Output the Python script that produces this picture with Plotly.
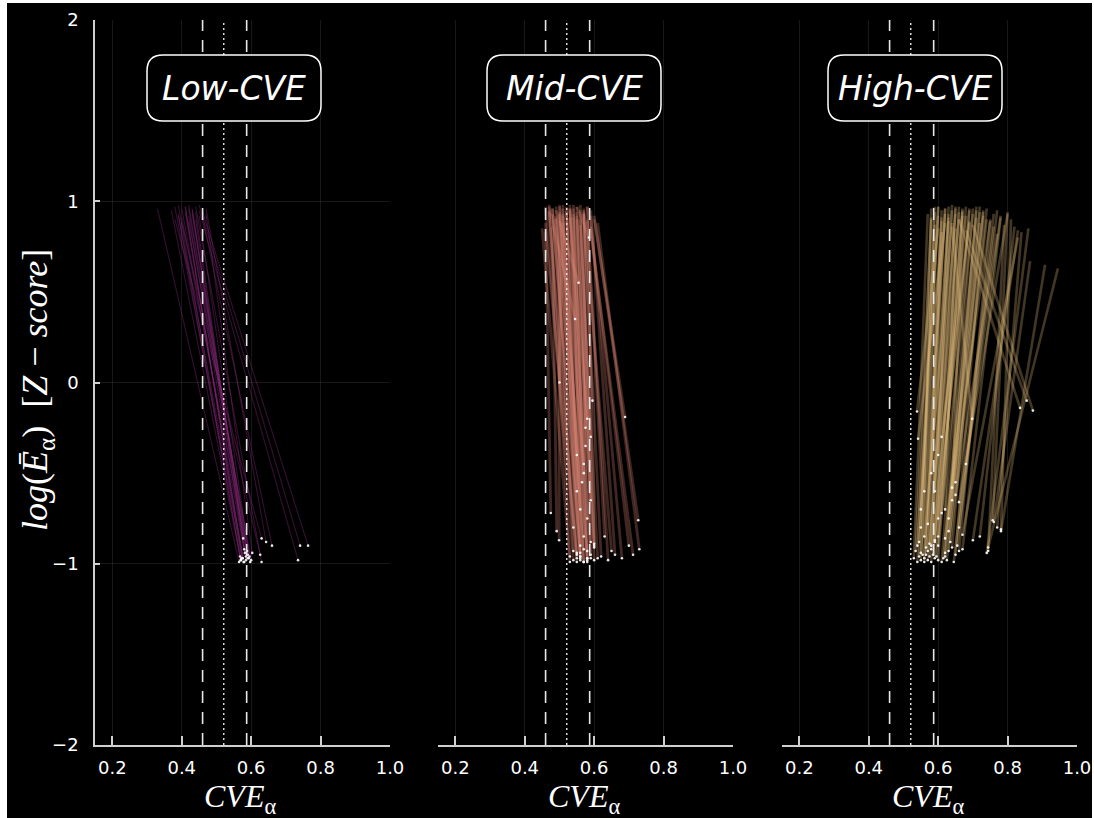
import plotly.graph_objects as go

# ---------------- data ----------------
low_top_x = [0.33, 0.37, 0.38, 0.39, 0.39, 0.40, 0.40, 0.41, 0.41, 0.42, 0.42, 0.42, 0.43, 0.43, 0.44,
             0.44, 0.45, 0.45, 0.46, 0.46, 0.47, 0.38, 0.40, 0.43, 0.45, 0.41, 0.44, 0.39, 0.47, 0.42]
low_top_y = [0.96, 0.95, 0.97, 0.93, 0.98, 0.96, 0.91, 0.97, 0.94, 0.98, 0.92, 0.89, 0.96, 0.93, 0.97,
             0.90, 0.95, 0.98, 0.94, 0.91, 0.96, 0.90, 0.88, 0.95, 0.92, 0.97, 0.94, 0.92, 0.93, 0.96]
low_end_x = [0.565, 0.57, 0.575, 0.58, 0.568, 0.585, 0.59, 0.572, 0.578, 0.595, 0.582, 0.60, 0.588, 0.593, 0.63,
             0.577, 0.735, 0.741, 0.764, 0.66, 0.643, 0.63, 0.626, 0.58, 0.597, 0.575, 0.585, 0.57, 0.603, 0.59]
low_end_y = [-0.99, -0.98, -0.97, -0.99, -0.96, -0.98, -0.95, -0.97, -0.99, -0.96, -0.94, -0.98, -0.93, -0.97, -0.99,
             -0.86, -0.98, -0.90, -0.90, -0.90, -0.88, -0.86, -0.95, -0.92, -0.99, -0.97, -0.96, -0.98, -0.94, -0.97]

mid_top_x = [0.46, 0.47, 0.47, 0.48, 0.48, 0.49, 0.49, 0.50, 0.50, 0.51,
             0.51, 0.52, 0.52, 0.53, 0.53, 0.54, 0.54, 0.55, 0.55, 0.56,
             0.56, 0.57, 0.57, 0.58, 0.58, 0.59, 0.59, 0.46, 0.48, 0.50,
             0.52, 0.54, 0.56, 0.58, 0.47, 0.49, 0.51, 0.53, 0.55, 0.57,
             0.59, 0.60, 0.61, 0.45, 0.46, 0.48, 0.50, 0.52, 0.54, 0.56,
             0.58, 0.60, 0.47, 0.49, 0.51, 0.53, 0.55, 0.57, 0.49, 0.51,
             0.53, 0.55, 0.57, 0.50]
mid_top_y = [0.97, 0.95, 0.98, 0.93, 0.96, 0.97, 0.90, 0.98, 0.94, 0.96,
             0.92, 0.97, 0.95, 0.98, 0.91, 0.96, 0.93, 0.97, 0.94, 0.98,
             0.90, 0.96, 0.93, 0.97, 0.89, 0.95, 0.92, 0.88, 0.86, 0.93,
             0.89, 0.91, 0.87, 0.90, 0.94, 0.92, 0.88, 0.95, 0.90, 0.93,
             0.86, 0.92, 0.88, 0.85, 0.83, 0.96, 0.97, 0.94, 0.98, 0.95,
             0.97, 0.90, 0.97, 0.95, 0.98, 0.96, 0.97, 0.95, 0.91, 0.93,
             0.96, 0.92, 0.94, 0.89]
mid_end_x = [0.54, 0.55, 0.53, 0.56, 0.55, 0.57, 0.54, 0.56, 0.58, 0.55,
             0.57, 0.56, 0.58, 0.57, 0.59, 0.58, 0.56, 0.59, 0.60, 0.58,
             0.61, 0.59, 0.62, 0.60, 0.64, 0.66, 0.68, 0.475, 0.492, 0.499,
             0.55, 0.57, 0.59, 0.63, 0.54, 0.56, 0.57, 0.58, 0.60, 0.65,
             0.70, 0.727, 0.73, 0.53, 0.55, 0.56, 0.57, 0.58, 0.59, 0.60,
             0.712, 0.689, 0.545, 0.555, 0.50, 0.575, 0.585, 0.595, 0.56, 0.57,
             0.58, 0.565, 0.575, 0.55]
mid_end_y = [-0.98, -0.99, -0.96, -0.97, -0.95, -0.99, -0.93, -0.98, -0.97, -0.94,
             -0.99, -0.96, -0.98, -0.92, -0.97, -0.99, -0.90, -0.95, -0.98, -0.93,
             -0.97, -0.88, -0.96, -0.91, -0.98, -0.95, -0.97, -0.72, -0.82, -0.87,
             -0.60, -0.45, -0.30, -0.85, -0.80, -0.70, -0.50, -0.20, -0.90, -0.93,
             -0.90, -0.76, -0.92, -0.99, -0.97, -0.94, -0.85, -0.75, -0.65, -0.89,
             -0.95, -0.19, 0.35, 0.55, 0.0, -0.35, 0.80, -0.10, -0.96, -0.99,
             -0.97, -0.55, -0.25, -0.40]

high_top_x = [0.57, 0.58, 0.58, 0.59, 0.59, 0.60, 0.60, 0.61, 0.61, 0.62,
              0.62, 0.63, 0.63, 0.64, 0.64, 0.65, 0.65, 0.66, 0.66, 0.67,
              0.67, 0.68, 0.68, 0.69, 0.69, 0.70, 0.70, 0.71, 0.71, 0.72,
              0.72, 0.73, 0.73, 0.74, 0.75, 0.76, 0.77, 0.78, 0.79, 0.80,
              0.81, 0.82, 0.83, 0.84, 0.865, 0.908, 0.945, 0.86, 0.60, 0.62,
              0.64, 0.66, 0.68, 0.70, 0.58, 0.61, 0.63, 0.65, 0.67, 0.69,
              0.71, 0.74, 0.76, 0.78, 0.60, 0.62, 0.64, 0.66, 0.59, 0.63,
              0.67, 0.72, 0.75, 0.80, 0.83, 0.61, 0.65, 0.69, 0.73, 0.77]
high_top_y = [0.93, 0.96, 0.90, 0.97, 0.94, 0.92, 0.97, 0.95, 0.89, 0.96,
              0.93, 0.97, 0.91, 0.95, 0.88, 0.96, 0.93, 0.97, 0.90, 0.94,
              0.96, 0.92, 0.97, 0.95, 0.89, 0.96, 0.93, 0.91, 0.97, 0.94,
              0.88, 0.95, 0.92, 0.96, 0.90, 0.93, 0.95, 0.91, 0.87, 0.94,
              0.90, 0.86, 0.84, 0.83, 0.67, 0.65, 0.63, 0.85, 0.85, 0.88,
              0.86, 0.90, 0.84, 0.87, 0.91, 0.83, 0.89, 0.85, 0.92, 0.88,
              0.95, 0.90, 0.86, 0.92, 0.97, 0.96, 0.98, 0.94, 0.87, 0.93,
              0.95, 0.97, 0.89, 0.93, 0.80, 0.91, 0.97, 0.96, 0.94, 0.82]
high_end_x = [0.53, 0.54, 0.535, 0.545, 0.55, 0.54, 0.555, 0.56, 0.545, 0.56,
              0.55, 0.57, 0.565, 0.575, 0.56, 0.58, 0.57, 0.59, 0.575, 0.585,
              0.60, 0.58, 0.595, 0.61, 0.59, 0.62, 0.60, 0.615, 0.63, 0.62,
              0.64, 0.625, 0.65, 0.635, 0.66, 0.645, 0.655, 0.67, 0.744, 0.757,
              0.781, 0.72, 0.70, 0.77, 0.76, 0.781, 0.744, 0.74, 0.539, 0.542,
              0.698, 0.836, 0.855, 0.873, 0.56, 0.58, 0.60, 0.62, 0.64, 0.61,
              0.63, 0.65, 0.66, 0.68, 0.55, 0.57, 0.59, 0.60, 0.55, 0.58,
              0.61, 0.63, 0.64, 0.66, 0.67, 0.565, 0.59, 0.60, 0.62, 0.65]
high_end_y = [-0.97, -0.99, -0.93, -0.96, -0.98, -0.90, -0.95, -0.99, -0.88, -0.97,
              -0.94, -0.98, -0.91, -0.96, -0.85, -0.99, -0.93, -0.97, -0.89, -0.95,
              -0.98, -0.92, -0.96, -0.99, -0.87, -0.94, -0.90, -0.97, -0.93, -0.96,
              -0.91, -0.98, -0.95, -0.88, -0.93, -0.99, -0.90, -0.92, -0.93, -0.76,
              -0.81, -0.85, -0.87, -0.80, -0.77, -0.82, -0.91, -0.94, -0.16, -0.31,
              -0.20, -0.14, -0.10, -0.155, -0.60, -0.50, -0.40, -0.70, -0.65, -0.30,
              -0.75, -0.55, -0.80, -0.45, -0.70, -0.78, -0.60, -0.85, -0.80, -0.90,
              -0.72, -0.82, -0.58, -0.66, -0.84, -0.95, -0.88, -0.75, -0.86, -0.62]

panel_labels = ["Low-CVE", "Mid-CVE", "High-CVE"]
x_ticks = [0.2, 0.4, 0.6, 0.8, 1.0]
x_ticktext = ["0.2", "0.4", "0.6", "0.8", "1.0"]
y_ticks = [-2, -1, 0, 1, 2]
y_ticktext = ["\u22122", "\u22121", "0", "1", "2"]
ref_lines_dashed = [0.46, 0.587]
ref_line_dotted = 0.521

for arrs in [(low_top_x, low_top_y, low_end_x, low_end_y),
             (mid_top_x, mid_top_y, mid_end_x, mid_end_y),
             (high_top_x, high_top_y, high_end_x, high_end_y)]:
    assert len(set(len(a) for a in arrs)) == 1, [len(a) for a in arrs]

# ---------------- figure ----------------
W, H = 1094, 818
panels = [
    dict(data=(low_top_x, low_top_y, low_end_x, low_end_y), color="rgba(140,45,125,0.38)", width=1.1,
         dom=(95, 390), suffix=""),
    dict(data=(mid_top_x, mid_top_y, mid_end_x, mid_end_y), color="rgba(230,140,122,0.28)", width=2.8,
         dom=(438, 733), suffix="2"),
    dict(data=(high_top_x, high_top_y, high_end_x, high_end_y), color="rgba(236,196,128,0.28)", width=2.6,
         dom=(782, 1077), suffix="3"),
]
ydom = [1 - 745 / H, 1 - 20 / H]

fig = go.Figure()
for p in panels:
    tx, ty, ex, ey = p["data"]
    xa, ya = "x" + p["suffix"], "y" + p["suffix"]
    for a, b, c, d in zip(tx, ty, ex, ey):
        fig.add_trace(go.Scatter(x=[a, c], y=[b, d], mode="lines",
                                 line=dict(color=p["color"], width=p["width"]),
                                 xaxis=xa, yaxis=ya, hoverinfo="skip", showlegend=False))
    fig.add_trace(go.Scatter(x=ex, y=ey, mode="markers",
                             marker=dict(color="rgba(255,255,255,0.9)", size=2.6, line=dict(width=0)),
                             xaxis=xa, yaxis=ya, hoverinfo="skip", showlegend=False))

axis_line = "#cfcfcf"
grid = "rgba(255,255,255,0.09)"
tickfont = dict(family="DejaVu Sans", size=18, color="white")
layout = dict(
    width=W, height=H, margin=dict(l=0, r=0, t=0, b=0, autoexpand=False), autosize=False,
    paper_bgcolor="white", plot_bgcolor="black", showlegend=False,
)
for i, p in enumerate(panels):
    s = p["suffix"]
    layout["xaxis" + s] = dict(
        domain=[p["dom"][0] / W, p["dom"][1] / W], anchor="y" + s, range=[0.15, 1.0],
        tickvals=x_ticks, ticktext=x_ticktext, ticks="inside", ticklen=9, tickwidth=1.5,
        tickcolor=axis_line, showline=True, linecolor=axis_line, linewidth=1.5,
        showgrid=True, gridcolor=grid, gridwidth=1, zeroline=False, tickfont=tickfont,
        automargin=False, ticklabelstandoff=6,
    )
    if i == 0:
        layout["yaxis"] = dict(
            domain=ydom, anchor="x", range=[-2, 2], tickvals=y_ticks, ticktext=y_ticktext,
            ticks="inside", ticklen=5, tickwidth=1.5, tickcolor=axis_line, showline=True,
            linecolor=axis_line, linewidth=1.5, showgrid=True, gridcolor=grid, gridwidth=1,
            zeroline=False, tickfont=tickfont, automargin=False, ticklabelstandoff=11,
        )
    else:
        layout["yaxis" + s] = dict(
            domain=ydom, anchor="x" + s, range=[-2, 2], showline=False, showticklabels=False,
            ticks="", showgrid=False, zeroline=False, automargin=False,
        )

shapes = [dict(type="rect", xref="paper", yref="paper", x0=7 / W, x1=1092 / W, y0=0, y1=1 - 3 / H,
               fillcolor="black", line=dict(width=0), layer="below")]
annotations = []
box_centers = [234, 574, 915]
r = 16
hw, hh = 87, 33
box_path = (f"M {-hw + r},{-hh} L {hw - r},{-hh} Q {hw},{-hh} {hw},{-hh + r} "
            f"L {hw},{hh - r} Q {hw},{hh} {hw - r},{hh} L {-hw + r},{hh} "
            f"Q {-hw},{hh} {-hw},{hh - r} L {-hw},{-hh + r} Q {-hw},{-hh} {-hw + r},{-hh} Z")
for i, p in enumerate(panels):
    s = p["suffix"]
    xa, ya = "x" + s, "y" + s
    for xv in ref_lines_dashed:
        shapes.append(dict(type="line", xref=xa, yref=ya, x0=xv, x1=xv, y0=-2, y1=2,
                           line=dict(color="#e8e8e8", width=1.6, dash="12px,9px"), layer="above"))
    shapes.append(dict(type="line", xref=xa, yref=ya, x0=ref_line_dotted, x1=ref_line_dotted, y0=-2, y1=2,
                       line=dict(color="#e8e8e8", width=1.4, dash="2px,3px"), layer="above"))
    shapes.append(dict(type="path", xref="paper", yref="paper", xsizemode="pixel", ysizemode="pixel",
                       xanchor=box_centers[i] / W, yanchor=1 - 88 / H, path=box_path,
                       fillcolor="black", line=dict(color="white", width=1.5), layer="above"))
    annotations.append(dict(text="<i>" + panel_labels[i] + "</i>", xref="paper", yref="paper",
                            x=box_centers[i] / W, y=1 - 88 / H, showarrow=False,
                            font=dict(family="DejaVu Sans", size=33, color="white"),
                            xanchor="center", yanchor="middle"))
    cx = (p["dom"][0] + p["dom"][1]) / 2 / W
    annotations.append(dict(text="<i>CVE</i><sub>\u03b1</sub>", xref="paper", yref="paper",
                            x=cx - 2 / W, y=1 - 798 / H, showarrow=False,
                            font=dict(family="Liberation Serif", size=32, color="white"),
                            xanchor="center", yanchor="middle"))

annotations.append(dict(text="<i>log</i>(<i>\u0112</i><sub>\u03b1</sub>)\u00a0 [<i>Z</i> \u2212 <i>score</i>]",
                        xref="paper", yref="paper", x=38 / W, y=1 - 390 / H, showarrow=False,
                        textangle=-90, font=dict(family="Liberation Serif", size=36, color="white"),
                        xanchor="center", yanchor="middle"))

layout["shapes"] = shapes
layout["annotations"] = annotations
fig.update_layout(**layout)
fig.write_html("out.html")
